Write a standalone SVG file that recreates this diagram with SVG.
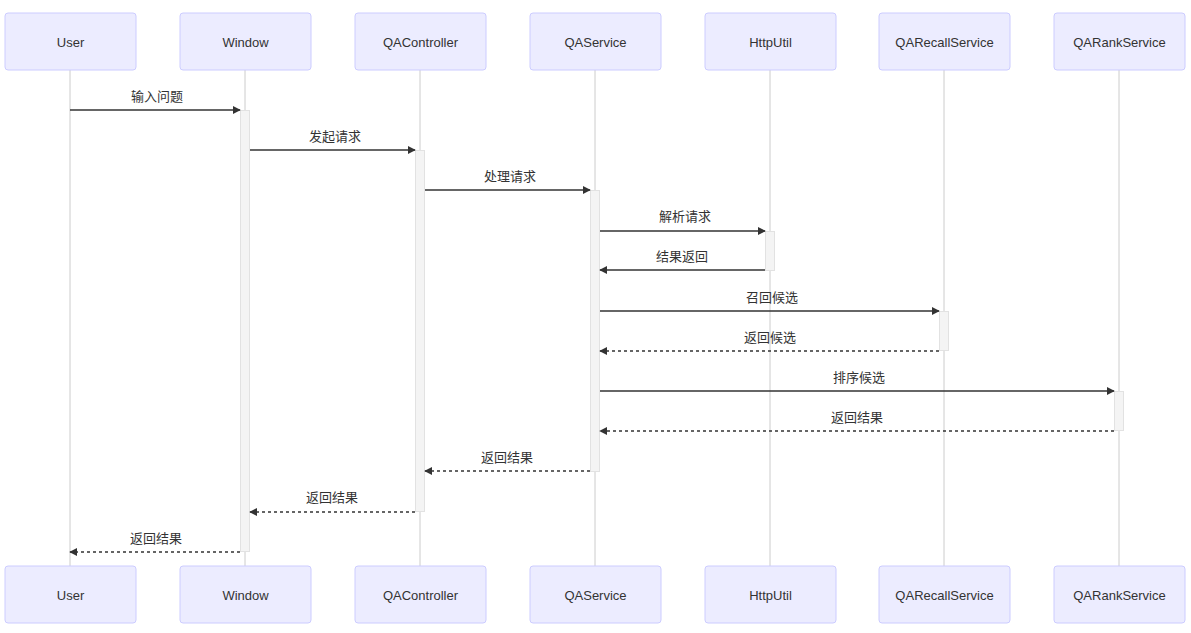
<svg xmlns="http://www.w3.org/2000/svg" width="1191" height="633" viewBox="0 0 1191 633">
<style>
.actor{fill:#ECECFF;stroke:#CCCCFF;stroke-width:1}
.atext{font-family:"Liberation Sans","Noto Sans CJK SC",sans-serif;font-size:13px;fill:#333;text-anchor:middle;dominant-baseline:central}
.life{stroke:#ccc;stroke-width:1}
.act{fill:#f4f4f4;stroke:#e2e2e2;stroke-width:1}
.msg{stroke:#333;stroke-width:1.5;fill:none}
.dash{stroke-dasharray:3,3}
.mtext{font-family:"Liberation Sans","Noto Sans CJK SC",sans-serif;font-size:13px;fill:#333;text-anchor:middle}
</style>
<defs>
<marker id="arr" viewBox="0 0 10 10" refX="9" refY="5" markerWidth="8" markerHeight="8" markerUnits="userSpaceOnUse" orient="auto"><path d="M0,0 L10,5 L0,10 z" fill="#333"/></marker>
</defs>
<rect width="1191" height="633" fill="#fff"/>
<g id="lifelines">
<line class="life" x1="70" y1="70" x2="70" y2="566"/>
<line class="life" x1="245" y1="70" x2="245" y2="566"/>
<line class="life" x1="420" y1="70" x2="420" y2="566"/>
<line class="life" x1="595" y1="70" x2="595" y2="566"/>
<line class="life" x1="770" y1="70" x2="770" y2="566"/>
<line class="life" x1="944" y1="70" x2="944" y2="566"/>
<line class="life" x1="1119" y1="70" x2="1119" y2="566"/>
</g>
<g id="actor-User"><rect class="actor" x="5" y="13" width="131" height="57" rx="3"/><text class="atext" x="70.5" y="42">User</text><rect class="actor" x="5" y="566" width="131" height="57" rx="3"/><text class="atext" x="70.5" y="595">User</text></g>
<g id="actor-Window"><rect class="actor" x="180" y="13" width="131" height="57" rx="3"/><text class="atext" x="245.5" y="42">Window</text><rect class="actor" x="180" y="566" width="131" height="57" rx="3"/><text class="atext" x="245.5" y="595">Window</text></g>
<g id="actor-QAController"><rect class="actor" x="355" y="13" width="131" height="57" rx="3"/><text class="atext" x="420.5" y="42">QAController</text><rect class="actor" x="355" y="566" width="131" height="57" rx="3"/><text class="atext" x="420.5" y="595">QAController</text></g>
<g id="actor-QAService"><rect class="actor" x="530" y="13" width="131" height="57" rx="3"/><text class="atext" x="595.5" y="42">QAService</text><rect class="actor" x="530" y="566" width="131" height="57" rx="3"/><text class="atext" x="595.5" y="595">QAService</text></g>
<g id="actor-HttpUtil"><rect class="actor" x="705" y="13" width="131" height="57" rx="3"/><text class="atext" x="770.5" y="42">HttpUtil</text><rect class="actor" x="705" y="566" width="131" height="57" rx="3"/><text class="atext" x="770.5" y="595">HttpUtil</text></g>
<g id="actor-QARecallService"><rect class="actor" x="879" y="13" width="131" height="57" rx="3"/><text class="atext" x="944.5" y="42">QARecallService</text><rect class="actor" x="879" y="566" width="131" height="57" rx="3"/><text class="atext" x="944.5" y="595">QARecallService</text></g>
<g id="actor-QARankService"><rect class="actor" x="1054" y="13" width="131" height="57" rx="3"/><text class="atext" x="1119.5" y="42">QARankService</text><rect class="actor" x="1054" y="566" width="131" height="57" rx="3"/><text class="atext" x="1119.5" y="595">QARankService</text></g>
<g id="activations">
<rect class="act" x="240.5" y="110.5" width="9" height="441"/>
<rect class="act" x="415.5" y="150.5" width="9" height="361"/>
<rect class="act" x="590.5" y="190.5" width="9" height="281"/>
<rect class="act" x="765.5" y="231.5" width="9" height="39"/>
<rect class="act" x="939.5" y="311.5" width="9" height="39"/>
<rect class="act" x="1114.5" y="391.5" width="9" height="39"/>
</g>
<g id="connectors">
<line class="msg" x1="70" y1="110" x2="240" y2="110" marker-end="url(#arr)"/>
<text class="mtext" x="157" y="101">输入问题</text>
<line class="msg" x1="250" y1="150" x2="415" y2="150" marker-end="url(#arr)"/>
<text class="mtext" x="335" y="141">发起请求</text>
<line class="msg" x1="425" y1="190" x2="590" y2="190" marker-end="url(#arr)"/>
<text class="mtext" x="510" y="181">处理请求</text>
<line class="msg" x1="600" y1="231" x2="765" y2="231" marker-end="url(#arr)"/>
<text class="mtext" x="685" y="221">解析请求</text>
<line class="msg" x1="765" y1="270" x2="600" y2="270" marker-end="url(#arr)"/>
<text class="mtext" x="682" y="261">结果返回</text>
<line class="msg" x1="600" y1="311" x2="939" y2="311" marker-end="url(#arr)"/>
<text class="mtext" x="772" y="302">召回候选</text>
<line class="msg dash" x1="939" y1="351" x2="600" y2="351" marker-end="url(#arr)"/>
<text class="mtext" x="770" y="342">返回候选</text>
<line class="msg" x1="600" y1="391" x2="1114" y2="391" marker-end="url(#arr)"/>
<text class="mtext" x="859" y="382">排序候选</text>
<line class="msg dash" x1="1114" y1="431" x2="600" y2="431" marker-end="url(#arr)"/>
<text class="mtext" x="857" y="422">返回结果</text>
<line class="msg dash" x1="590" y1="471" x2="425" y2="471" marker-end="url(#arr)"/>
<text class="mtext" x="507" y="462">返回结果</text>
<line class="msg dash" x1="415" y1="512" x2="250" y2="512" marker-end="url(#arr)"/>
<text class="mtext" x="332" y="502">返回结果</text>
<line class="msg dash" x1="240" y1="552" x2="70" y2="552" marker-end="url(#arr)"/>
<text class="mtext" x="156" y="543">返回结果</text>
</g>
</svg>
